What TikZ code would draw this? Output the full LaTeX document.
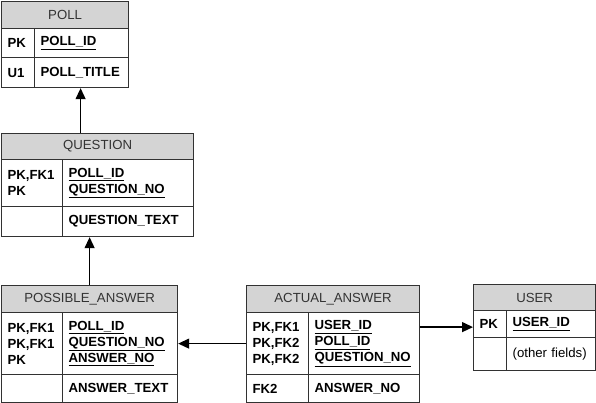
\documentclass[tikz,border=0pt]{standalone}
\usepackage{fontspec}
\setmainfont{Liberation Sans}
\usetikzlibrary{arrows.meta}

\begin{document}
\begin{tikzpicture}[x=1pt,y=-1pt]
    \definecolor{headgray}{RGB}{212,212,212}
    \definecolor{linegray}{RGB}{50,50,50}
    \tikzset{
        cell/.style={draw=linegray,line width=1.2pt,inner xsep=6pt,inner ysep=0pt,
            anchor=north west,align=left,text=black,
            font=\fontsize{13.2}{16}\selectfont\bfseries},
        headcell/.style={cell,fill=headgray,align=center,text=black!80,
            font=\fontsize{13.2}{16}\selectfont},
        fk/.style={draw=black,line width=1.3pt,-{Triangle[length=11pt,width=10pt]}}
    }
    \useasboundingbox (0,0) rectangle (596,403);

    % poll
    \node[headcell,text width=115pt,minimum height=27pt] (poll) at (1,1) {POLL};
    \node[cell,text width=21pt,minimum height=29pt] (pollk1) at (1,28) {PK};
    \node[cell,text width=82pt,minimum height=29pt] (pollf1) at (34,28) {\underline{POLL\_ID}};
    \node[cell,text width=21pt,minimum height=30pt] (pollk2) at (1,57) {U1};
    \node[cell,text width=82pt,minimum height=30pt] (pollf2) at (34,57) {POLL\_TITLE};

    % question
    \node[headcell,text width=180pt,minimum height=26pt] (question) at (1,133) {QUESTION};
    \node[cell,text width=49pt,minimum height=47pt] (questk1) at (1,159) {PK,FK1\\PK};
    \node[cell,text width=119pt,minimum height=47pt] (questf1) at (62,159)
        {\underline{POLL\_ID}\\\underline{QUESTION\_NO}};
    \node[cell,text width=49pt,minimum height=30pt] (questk2) at (1,206) {};
    \node[cell,text width=119pt,minimum height=30pt] (questf2) at (62,206) {QUESTION\_TEXT};

    % possible answer
    \node[headcell,text width=164pt,minimum height=27pt] (possible) at (1,285) {POSSIBLE\_ANSWER};
    \node[cell,text width=49pt,minimum height=62pt] (possk1) at (1,312) {PK,FK1\\PK,FK1\\PK};
    \node[cell,text width=103pt,minimum height=62pt] (possf1) at (62,312)
        {\underline{POLL\_ID}\\\underline{QUESTION\_NO}\\\underline{ANSWER\_NO}};
    \node[cell,text width=49pt,minimum height=28pt] (possk2) at (1,374) {};
    \node[cell,text width=103pt,minimum height=28pt] (possf2) at (62,374) {ANSWER\_TEXT};

    % actual answer
    \node[headcell,text width=161pt,minimum height=27pt] (actual) at (246,285) {ACTUAL\_ANSWER};
    \node[cell,text width=50pt,minimum height=62pt] (actk1) at (246,312) {PK,FK1\\PK,FK2\\PK,FK2};
    \node[cell,text width=99pt,minimum height=62pt] (actf1) at (308,312)
        {\underline{USER\_ID}\\\underline{POLL\_ID}\\\underline{QUESTION\_NO}};
    \node[cell,text width=50pt,minimum height=28pt] (actk2) at (246,374) {FK2};
    \node[cell,text width=99pt,minimum height=28pt] (actf2) at (308,374) {ANSWER\_NO};

    % user
    \node[headcell,text width=110pt,minimum height=26pt] (user) at (473,284) {USER};
    \node[cell,text width=21pt,minimum height=27pt] (userk1) at (473,310) {PK};
    \node[cell,text width=77pt,minimum height=27pt] (userf1) at (506,310) {\underline{USER\_ID}};
    \node[cell,text width=21pt,minimum height=33pt] (userk2) at (473,337) {};
    \node[cell,text width=77pt,minimum height=33pt,font=\fontsize{13.2}{16}\selectfont]
        (userf2) at (506,337) {(other fields)};

    % references
    \draw[fk] ([xshift=-17pt]question.north) -- ([xshift=-17pt]question.north |- pollf2.south);
    \draw[fk] (possible.north) -- (possible.north |- questf2.south);
    \draw[fk] (actk1.west) -- (possf1.east);
    \coordinate (usertip) at ([yshift=-3pt]userk1.west);
    \draw[fk] (usertip -| actf1.east) -- (usertip);
\end{tikzpicture}
\end{document}
